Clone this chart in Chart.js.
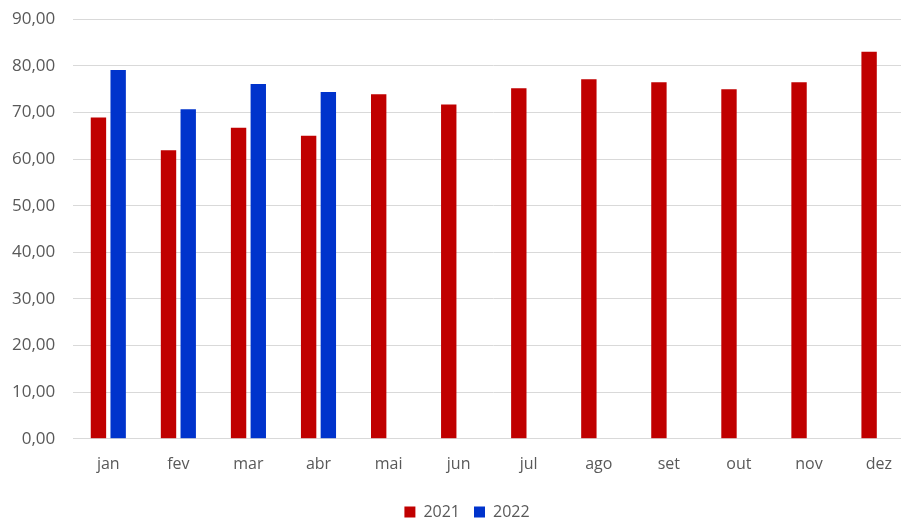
<!DOCTYPE html>
<html>
<head>
<meta charset="utf-8">
<script src="https://cdn.jsdelivr.net/npm/chart.js@4/dist/chart.umd.min.js"></script>
<style>
  html, body { margin: 0; padding: 0; background: #fff; overflow: hidden; }
  #wrap { width: 914px; height: 541px; margin-top: -9px; }
</style>
</head>
<body>
<div id="wrap"><canvas id="chart"></canvas></div>
<script>
// months and yearly values
var meses = ['jan', 'fev', 'mar', 'abr', 'mai', 'jun', 'jul', 'ago', 'set', 'out', 'nov', 'dez'];
var valores2021 = [68.9, 61.9, 66.7, 65.0, 73.9, 71.7, 75.2, 77.1, 76.5, 75.0, 76.5, 83.0];
var valores2022 = [79.1, 70.7, 76.1, 74.4, null, null, null, null, null, null, null, null];
var yTicks = [0, 10, 20, 30, 40, 50, 60, 70, 80, 90];

var fonte = "'Open Sans', sans-serif";
var cinza = '#595959';

// nudge the legend a bit to the right, like the original
var legendaShift = {
    id: 'legendaShift',
    afterLayout: function(chart) {
        chart.legend.left += 13;
        chart.legend.right += 13;
    }
};

new Chart(document.getElementById('chart'), {
    type: 'bar',
    data: {
        labels: meses,
        datasets: [{
            label: '2021',
            data: valores2021,
            backgroundColor: '#c00000',
            categoryPercentage: 0.563,
            barPercentage: 0.78
        }, {
            label: '2022',
            data: valores2022,
            backgroundColor: '#0033cc',
            categoryPercentage: 0.563,
            barPercentage: 0.78
        }]
    },
    options: {
        responsive: true,
        maintainAspectRatio: false,
        animation: false,
        layout: { padding: { left: -6, right: 0, top: 1, bottom: 2 } },
        plugins: {
            tooltip: { enabled: false },
            legend: {
                position: 'bottom',
                labels: {
                    boxWidth: 11,
                    boxHeight: 11,
                    padding: 14,
                    color: cinza,
                    font: { family: fonte, size: 16 }
                }
            }
        },
        scales: {
            x: {
                grid: { display: false },
                border: { display: true, color: '#d9d9d9' },
                afterFit: function(s) { s.height += 8; },
                ticks: {
                    color: cinza,
                    padding: 8,
                    font: { family: fonte, size: 16 }
                }
            },
            y: {
                min: yTicks[0],
                max: yTicks[yTicks.length - 1],
                border: { display: false },
                grid: { color: '#d9d9d9', drawTicks: false },
                ticks: {
                    stepSize: 10,
                    padding: 18,
                    color: cinza,
                    font: { family: fonte, size: 17 },
                    callback: function(v) { return v.toFixed(2).replace('.', ','); }
                }
            }
        }
    },
    plugins: [legendaShift]
});
</script>
</body>
</html>
